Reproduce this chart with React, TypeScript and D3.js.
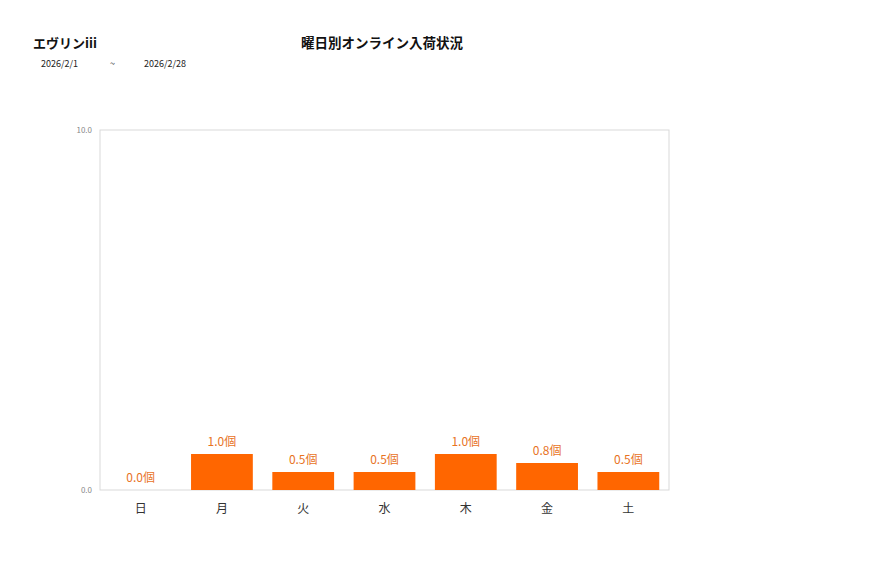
import { useEffect, useRef } from "react";
import * as d3 from "d3";

const days = ["日", "月", "火", "水", "木", "金", "土"];
const values = [0, 1.0, 0.5, 0.5, 1.0, 0.75, 0.5];
const yTicks = [0, 10];
const storeName = "エヴリンiii";
const chartTitle = "曜日別オンライン入荷状況";
const dateFrom = "2026/2/1";
const dateTo = "2026/2/28";

const FONT = "'Noto Sans CJK JP', 'Noto Sans', sans-serif";

const Chart = () => {
  const ref = useRef<SVGSVGElement>(null);

  useEffect(() => {
    if (!ref.current) return;
    const svg = d3.select(ref.current);
    svg.selectAll("*").remove();

    const margin = { top: 130, right: 208, bottom: 88, left: 100 };
    const width = 877;
    const height = 578;

    const x = d3
      .scaleBand<string>()
      .domain(days)
      .range([margin.left, width - margin.right])
      .paddingInner(0.24)
      .paddingOuter(0.12);

    const y = d3
      .scaleLinear()
      .domain([0, 10])
      .range([height - margin.bottom, margin.top]);

    // headings
    svg.append("text").attr("x", 33).attr("y", 48).attr("font-size", 13).attr("font-weight", "bold")
      .attr("font-family", FONT).attr("fill", "#111").text(storeName);
    svg.append("text").attr("x", 382).attr("y", 48).attr("font-size", 13.5).attr("font-weight", "bold")
      .attr("text-anchor", "middle").attr("font-family", FONT).attr("fill", "#111").text(chartTitle);
    svg.append("text").attr("x", 41).attr("y", 67).attr("font-size", 9).attr("font-family", FONT)
      .attr("fill", "#222").text(dateFrom);
    svg.append("text").attr("x", 110).attr("y", 67).attr("font-size", 9).attr("font-family", FONT)
      .attr("fill", "#222").text("~");
    svg.append("text").attr("x", 144).attr("y", 67).attr("font-size", 9).attr("font-family", FONT)
      .attr("fill", "#222").text(dateTo);

    // plot frame
    svg.append("rect")
      .attr("x", margin.left)
      .attr("y", margin.top)
      .attr("width", width - margin.left - margin.right)
      .attr("height", height - margin.top - margin.bottom)
      .attr("fill", "none")
      .attr("stroke", "#d9d9d9");

    // y ticks
    svg.selectAll(".ytick").data(yTicks).join("text")
      .attr("x", margin.left - 8)
      .attr("y", d => y(d) + 3)
      .attr("text-anchor", "end")
      .attr("font-size", 8)
      .attr("font-family", FONT)
      .attr("fill", "#888")
      .text(d => d.toFixed(1));

    // bars
    svg.selectAll(".bar").data(values).join("rect")
      .attr("x", (d, i) => x(days[i])!)
      .attr("y", d => y(d))
      .attr("width", x.bandwidth())
      .attr("height", d => y(0) - y(d))
      .attr("fill", "#ff6600");

    // value labels
    svg.selectAll(".vlabel").data(values).join("text")
      .attr("x", (d, i) => x(days[i])! + x.bandwidth() / 2)
      .attr("y", d => y(d) - 8)
      .attr("text-anchor", "middle")
      .attr("font-size", 12)
      .attr("font-family", FONT)
      .attr("fill", "#e8731f")
      .text(d => d.toFixed(1) + "個");

    // x labels
    svg.selectAll(".xlabel").data(days).join("text")
      .attr("x", d => x(d)! + x.bandwidth() / 2)
      .attr("y", y(0) + 23)
      .attr("text-anchor", "middle")
      .attr("font-size", 12)
      .attr("font-family", FONT)
      .attr("fill", "#333")
      .text(d => d);
  }, []);

  return <svg ref={ref} width={877} height={578} viewBox="0 0 877 578" style={{ display: "block" }} />;
};

export default function App() {
  return (
    <div style={{ margin: -8 }}>
      <Chart />
    </div>
  );
}
